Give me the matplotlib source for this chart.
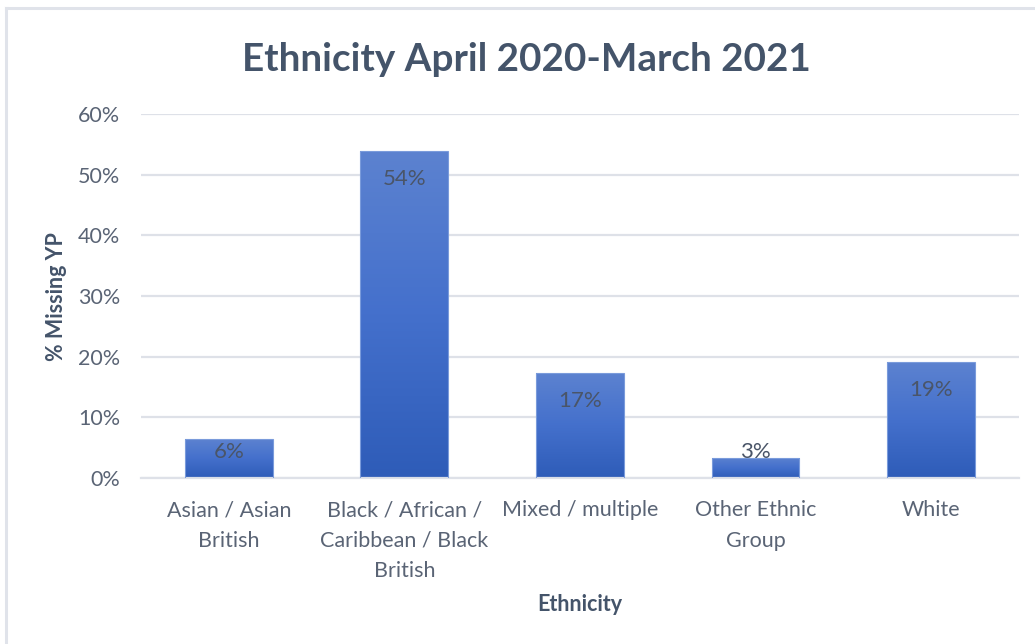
import numpy as np
import matplotlib.pyplot as plt
from matplotlib.colors import LinearSegmentedColormap
from matplotlib.patches import Rectangle

categories = ['Asian / Asian\nBritish', 'Black / African /\nCaribbean / Black\nBritish',
              'Mixed / multiple', 'Other Ethnic\nGroup', 'White']
pct_missing = [6.4, 53.9, 17.3, 3.3, 19.1]
yticks = [0, 10, 20, 30, 40, 50, 60]

title_col = '#44546A'
text_col = '#5A6475'
grid_col = '#DEE1E8'

plt.rcParams['font.family'] = ['Lato', 'DejaVu Sans']

fig = plt.figure(figsize=(10.35, 6.44), dpi=100)
ax = fig.add_axes([0.1362, 0.2578, 0.8483, 0.5652])

x = np.arange(len(categories))
bars = ax.bar(x, pct_missing, width=0.5, color='none', edgecolor='#7A9BDB',
              linewidth=0.8, zorder=3)

# vertical gradient fill, lighter at the top of each bar
grad = LinearSegmentedColormap.from_list('bar', ['#2E5CB8', '#4470CC', '#5C82D0'])
for b in bars:
    x0, y0 = b.get_x(), b.get_y()
    w, h = b.get_width(), b.get_height()
    img = ax.imshow(np.linspace(0, 1, 256).reshape(-1, 1), cmap=grad,
                    extent=[x0, x0 + w, y0, y0 + h], origin='lower',
                    aspect='auto', zorder=2)
    img.set_clip_path(Rectangle((x0, y0), w, h, transform=ax.transData))

# labels sit just inside the bar end, but never below the base padding
for xi, v in zip(x, pct_missing):
    ly = max(v - 4.6, 4.3)
    ax.text(xi, ly, f'{round(v):.0f}%', ha='center', va='center',
            fontsize=16, color='#4A5568', zorder=4)

ax.set_xlim(-0.5, len(categories) - 0.5)
ax.set_ylim(0, 60)
ax.set_yticks(yticks)
ax.set_yticklabels([f'{t}%' for t in yticks])
ax.set_xticks(x)
ax.set_xticklabels(categories, linespacing=1.66)

ax.tick_params(axis='both', length=0, labelsize=15.5, colors=text_col)
ax.tick_params(axis='y', pad=15)
ax.tick_params(axis='x', pad=16)
for lbl in ax.get_xticklabels():
    lbl.set_va('top')

ax.grid(axis='y', color=grid_col, linewidth=1.6, zorder=0)
ax.set_axisbelow(True)
for s in ['top', 'right', 'left']:
    ax.spines[s].set_visible(False)
ax.spines['bottom'].set_color(grid_col)
ax.spines['bottom'].set_linewidth(1.6)

fig.text(0.5087, 0.908, 'Ethnicity April 2020-March 2021', ha='center', va='center',
         fontsize=27.8, fontweight='bold', color=title_col)
fig.text(0.5604, 0.061, 'Ethnicity', ha='center', va='center',
         fontsize=15.5, fontweight='bold', color=title_col)
fig.text(0.055, 0.54, '% Missing YP', ha='center', va='center', rotation=90,
         fontsize=15.5, fontweight='bold', color=title_col)

# light chart frame
fig.add_artist(plt.Line2D([0.006, 1.0], [0.988, 0.988], color='#E0E3EA', linewidth=2.2))
fig.add_artist(plt.Line2D([0.006, 0.006], [0.0, 0.988], color='#E0E3EA', linewidth=2.2))

fig.savefig('out.png', dpi=100)
